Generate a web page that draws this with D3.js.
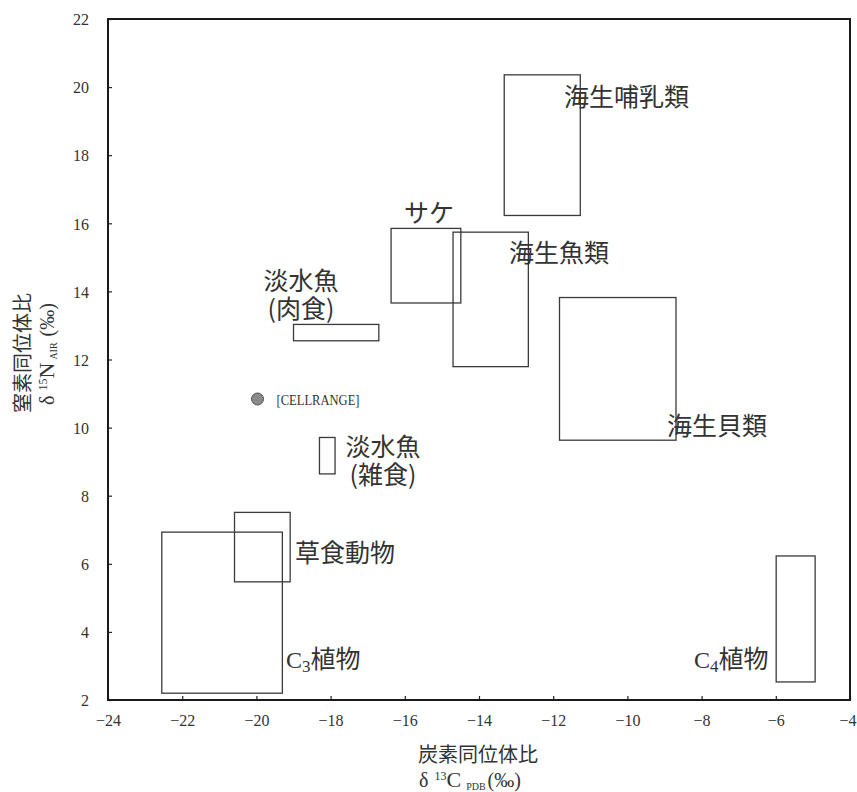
<!DOCTYPE html>
<html>
<head>
<meta charset="utf-8">
<script src="https://cdn.jsdelivr.net/npm/d3@7"></script>
<style>
  html, body { margin: 0; padding: 0; background: #fff; }
  svg { display: block; }
</style>
</head>
<body>
<svg id="chart" width="857" height="792"></svg>
<script>
// Isotope ranges (δ13C, δ15N) per food group
const groups = ["海生哺乳類", "サケ", "海生魚類", "海生貝類", "淡水魚(肉食)", "淡水魚(雑食)", "草食動物", "C3植物", "C4植物"];
const carbonMin = [-13.32, -16.37, -14.70, -11.83, -19.00, -18.30, -20.59, -22.55, -5.99];
const carbonMax = [-11.27, -14.49, -12.67, -8.69, -16.70, -17.88, -19.09, -19.30, -4.94];
const nitrogenMin = [16.23, 13.66, 11.79, 9.63, 12.55, 8.64, 5.47, 2.20, 2.53];
const nitrogenMax = [20.36, 15.85, 15.74, 13.82, 13.03, 9.71, 7.51, 6.93, 6.23];

// Single sample point
const sampleCarbon = [-19.97];
const sampleNitrogen = [10.84];
const sampleLabel = ["[CELLRANGE]"];

// Axis ticks
const xTicks = [-24, -22, -20, -18, -16, -14, -12, -10, -8, -6, -4];
const yTicks = [2, 4, 6, 8, 10, 12, 14, 16, 18, 20, 22];

const svg = d3.select("#chart");
const plotLeft = 108, plotRight = 850, plotTop = 19, plotBottom = 700;

const x = d3.scaleLinear().domain([-24, -4]).range([plotLeft, plotRight]);
const y = d3.scaleLinear().domain([2, 22]).range([plotBottom, plotTop]);

const serif = "'Liberation Serif', 'DejaVu Serif', serif";
const cjk = "'Noto Sans CJK JP', 'Noto Sans', sans-serif";
const textColor = "#333";

// Axes with inward ticks
const fmt = d => (d < 0 ? "\u2212" + Math.abs(d) : String(d));
const xAxis = svg.append("g")
  .attr("transform", `translate(0,${plotBottom})`)
  .call(d3.axisBottom(x).tickValues(xTicks).tickFormat(fmt).tickSizeInner(-4).tickSizeOuter(0).tickPadding(15));
const yAxis = svg.append("g")
  .attr("transform", `translate(${plotLeft},0)`)
  .call(d3.axisLeft(y).tickValues(yTicks).tickFormat(fmt).tickSizeInner(-4).tickSizeOuter(0).tickPadding(19));
[xAxis, yAxis].forEach(g => {
  g.select(".domain").remove();
  g.selectAll(".tick line").attr("stroke", "#222").attr("stroke-width", 1.2);
  g.selectAll(".tick text").attr("font-family", serif).attr("font-size", 16).attr("fill", textColor);
});
yAxis.selectAll(".tick text").attr("dy", "0.36em");
// keep the last x label inside the page edge
xAxis.selectAll(".tick text").filter(d => d === -4).attr("text-anchor", "end").attr("dx", 6);

// Plot frame
svg.append("rect")
  .attr("x", plotLeft).attr("y", plotTop)
  .attr("width", plotRight - plotLeft).attr("height", plotBottom - plotTop)
  .attr("fill", "none").attr("stroke", "#1a1a1a").attr("stroke-width", 2);

// Range boxes
svg.append("g").selectAll("rect")
  .data(groups.map((g, i) => ({ g, x0: carbonMin[i], x1: carbonMax[i], y0: nitrogenMin[i], y1: nitrogenMax[i] })))
  .join("rect")
  .attr("x", d => x(d.x0))
  .attr("y", d => y(d.y1))
  .attr("width", d => x(d.x1) - x(d.x0))
  .attr("height", d => y(d.y0) - y(d.y1))
  .attr("fill", "none")
  .attr("stroke", "#3a3a3a")
  .attr("stroke-width", 1.3);

// Sample point
svg.append("g").selectAll("circle")
  .data(sampleCarbon.map((c, i) => ({ c, n: sampleNitrogen[i], label: sampleLabel[i] })))
  .join("circle")
  .attr("cx", d => x(d.c)).attr("cy", d => y(d.n)).attr("r", 6)
  .attr("fill", "#8a8a8a").attr("stroke", "#555").attr("stroke-width", 1);
sampleCarbon.forEach((c, i) => {
  svg.append("text")
    .attr("x", x(c) + 19).attr("y", y(sampleNitrogen[i]) + 6)
    .attr("font-family", serif).attr("font-size", 14).attr("fill", textColor)
    .attr("textLength", 83).attr("lengthAdjust", "spacingAndGlyphs")
    .text(sampleLabel[i]);
});

// Group labels (pixel anchors: left x, baseline y)
const labelSize = 25;
function plainLabel(text, lx, ly) {
  svg.append("text")
    .attr("x", lx).attr("y", ly)
    .attr("font-family", cjk).attr("font-size", labelSize).attr("fill", textColor)
    .text(text);
}
plainLabel("海生哺乳類", 564, 106);
plainLabel("海生魚類", 509, 262);
plainLabel("海生貝類", 667, 435);
plainLabel("サケ", 404, 222);
plainLabel("草食動物", 295, 562);

function twoLine(a, b, cx, ly) {
  [a, b].forEach((s, k) => {
    svg.append("text")
      .attr("x", cx).attr("y", ly + k * 28)
      .attr("text-anchor", "middle")
      .attr("font-family", cjk).attr("font-size", labelSize).attr("fill", textColor)
      .text(s);
  });
}
twoLine("淡水魚", "(肉食)", 301, 290);
twoLine("淡水魚", "(雑食)", 383, 456);

function plantLabel(digit, lx, ly) {
  const t = svg.append("text").attr("x", lx).attr("y", ly).attr("fill", textColor);
  t.append("tspan").attr("font-family", serif).attr("font-size", 24).text("C");
  t.append("tspan").attr("font-family", serif).attr("font-size", 17).attr("dy", 4).text(digit);
  t.append("tspan").attr("font-family", cjk).attr("font-size", labelSize).attr("dy", -4).text("植物");
}
plantLabel("3", 286, 668);
plantLabel("4", 694, 668);

// X axis title
svg.append("text")
  .attr("x", 478).attr("y", 762)
  .attr("text-anchor", "middle")
  .attr("font-family", cjk).attr("font-size", 20).attr("fill", textColor)
  .text("炭素同位体比");
const xt = svg.append("text").attr("x", 419).attr("y", 787).attr("fill", textColor).attr("font-family", serif);
xt.append("tspan").attr("font-size", 20).text("δ ");
xt.append("tspan").attr("font-size", 12).attr("dy", -7).attr("dx", 1).text("13");
xt.append("tspan").attr("font-size", 22).attr("dy", 7).text("C");
xt.append("tspan").attr("font-size", 10).attr("dy", 3).attr("dx", 5).text("PDB");
xt.append("tspan").attr("font-size", 20).attr("dy", -3).attr("dx", 2).text("(‰)");

// Y axis title (rotated)
svg.append("text")
  .attr("transform", "translate(30,353) rotate(-90)")
  .attr("text-anchor", "middle")
  .attr("font-family", cjk).attr("font-size", 20).attr("fill", textColor)
  .text("窒素同位体比");
const yt = svg.append("text")
  .attr("transform", "translate(54,354) rotate(-90)")
  .attr("text-anchor", "middle")
  .attr("fill", textColor).attr("font-family", serif);
yt.append("tspan").attr("font-size", 20).text("δ ");
yt.append("tspan").attr("font-size", 12).attr("dy", -7).text("15");
yt.append("tspan").attr("font-size", 22).attr("dy", 7).text("N");
yt.append("tspan").attr("font-size", 10).attr("dy", 3).attr("dx", 3).text("AIR");
yt.append("tspan").attr("font-size", 20).attr("dy", -3).attr("dx", 6).text("(‰)");
</script>
</body>
</html>
